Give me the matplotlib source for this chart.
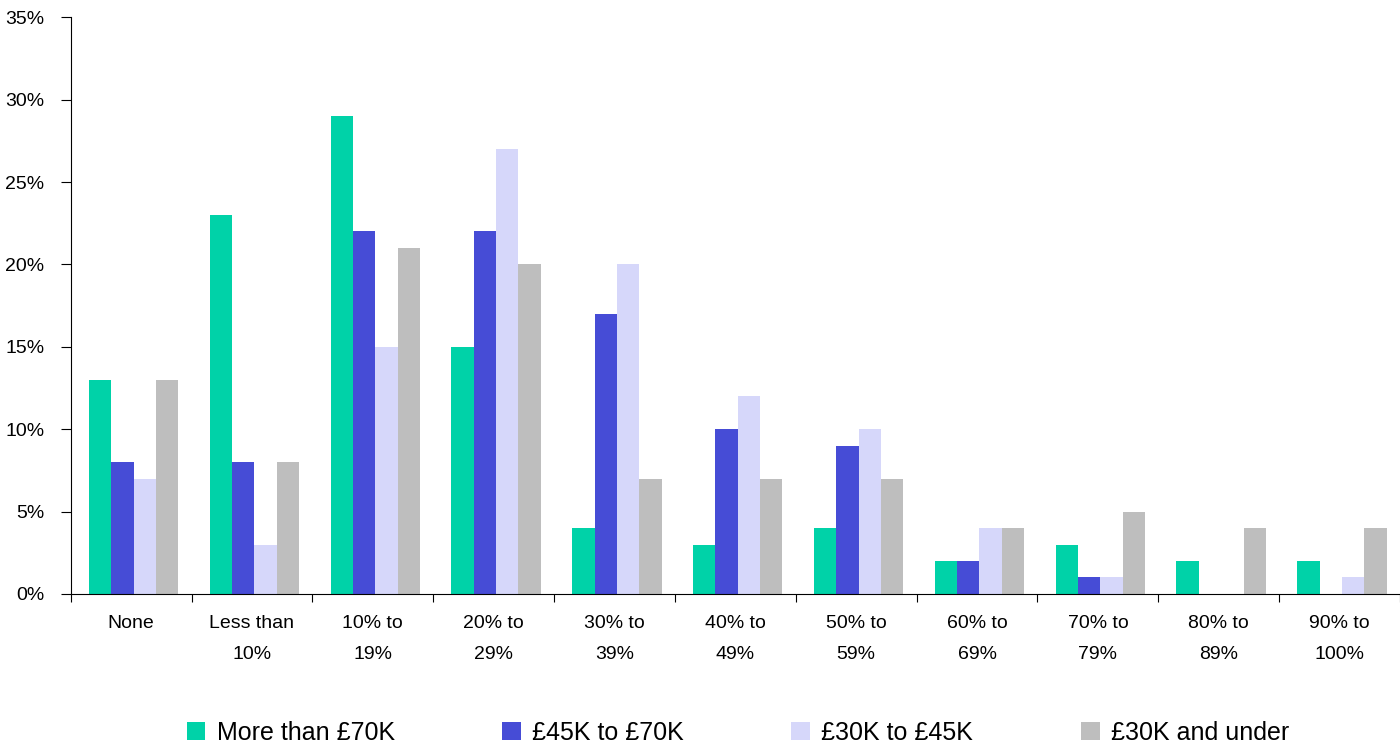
import numpy as np
import matplotlib.pyplot as plt
from matplotlib.ticker import FuncFormatter

plt.rcParams['font.family'] = ['Liberation Sans', 'DejaVu Sans']

categories = ["None", "Less than\n10%", "10% to\n19%", "20% to\n29%", "30% to\n39%",
              "40% to\n49%", "50% to\n59%", "60% to\n69%", "70% to\n79%",
              "80% to\n89%", "90% to\n100%"]
series_names = ["More than £70K", "£45K to £70K", "£30K to £45K", "£30K and under"]
over_70k = [13, 23, 29, 15, 4, 3, 4, 2, 3, 2, 2]
k45_70 = [8, 8, 22, 22, 17, 10, 9, 2, 1, 0, 0]
k30_45 = [7, 3, 15, 27, 20, 12, 10, 4, 1, 0, 1]
under_30k = [13, 8, 21, 20, 7, 7, 7, 4, 5, 4, 4]
colors = ["#00D2A8", "#464CD6", "#D6D7FA", "#BEBEBE"]

fig = plt.figure(figsize=(14, 7.49), dpi=100)
ax = fig.add_axes([0.0505, 0.207, 0.9495, 0.770])

x = np.arange(len(categories))
width = 0.185
for j, (vals, name, c) in enumerate(zip([over_70k, k45_70, k30_45, under_30k], series_names, colors)):
    ax.bar(x + 0.15 + j * width, vals, width, align='edge', color=c, label=name)

ax.set_xlim(0, len(categories))
ax.set_ylim(0, 35)
ax.set_yticks(np.arange(0, 36, 5))
ax.yaxis.set_major_formatter(FuncFormatter(lambda v, p: f"{v:.0f}%"))
ax.set_xticks(np.arange(0, len(categories) + 1))
ax.set_xticklabels([])
ax.set_xticks(x + 0.5, minor=True)
ax.set_xticklabels(categories, minor=True, linespacing=2.1)
ax.tick_params(axis='x', which='minor', length=0, pad=15, labelsize=14)
ax.tick_params(axis='x', which='major', length=6, direction='out')
ax.tick_params(axis='y', length=7, direction='out', labelsize=14, pad=12)

for s in ['top', 'right']:
    ax.spines[s].set_visible(False)

fig.legend(loc='center', bbox_to_anchor=(0.527, 0.022), ncol=4, frameon=False,
           fontsize=18, handlelength=0.75, handleheight=0.75, handletextpad=0.45,
           columnspacing=4.3)

plt.savefig('out.png', dpi=100)
